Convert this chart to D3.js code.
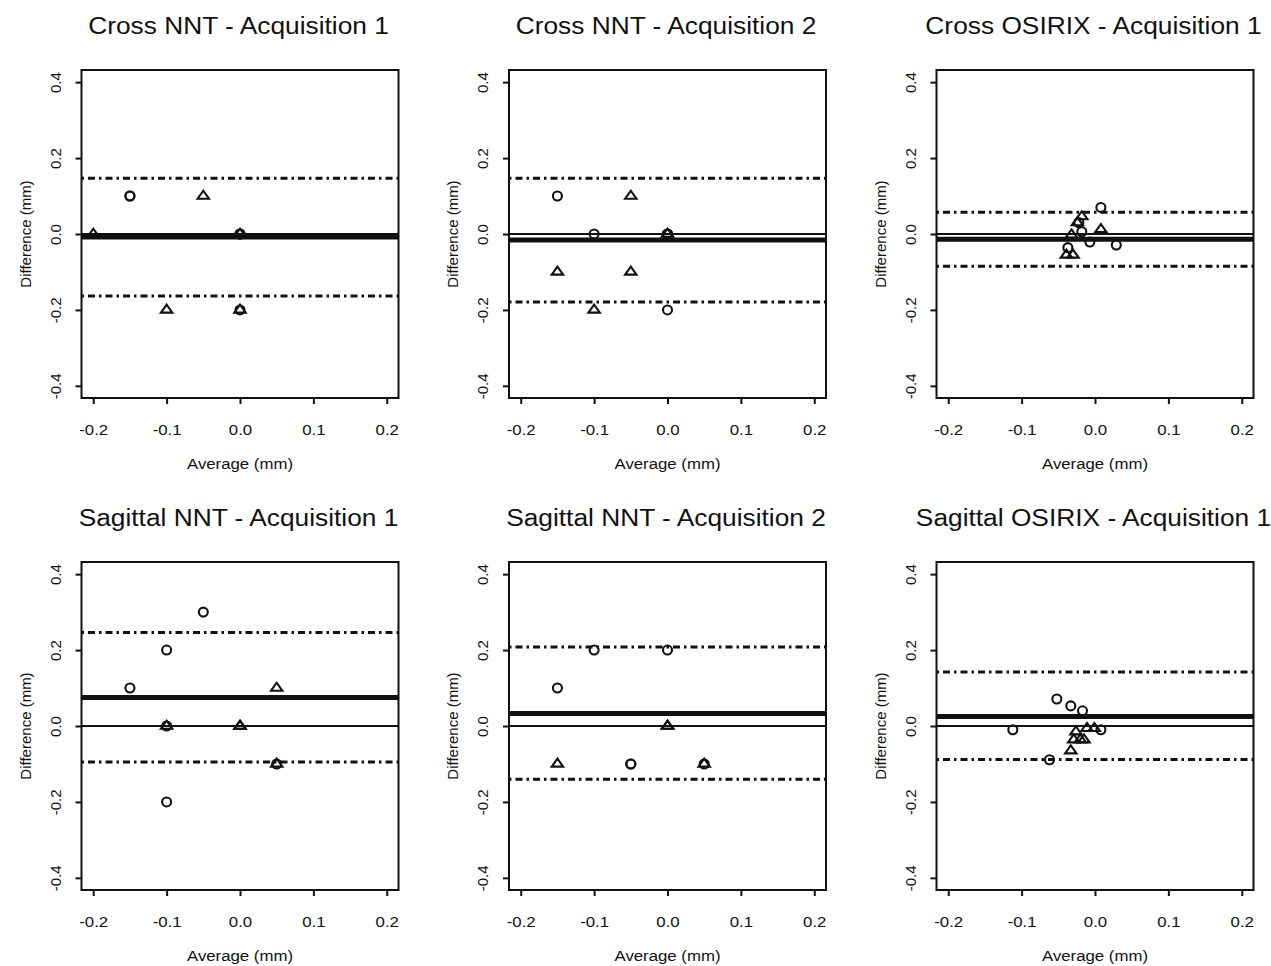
<!DOCTYPE html>
<html>
<head>
<meta charset="utf-8">
<script src="https://cdn.jsdelivr.net/npm/d3@7"></script>
<style>
  html, body { margin: 0; padding: 0; background: #fff; }
  svg text { font-family: "Liberation Sans", Arial, Helvetica, sans-serif; fill: #111; }
</style>
</head>
<body>
<svg id="chart" width="1271" height="966"></svg>
<script>
// ---------- data ----------
const panelTitles = [
  "Cross NNT - Acquisition 1", "Cross NNT - Acquisition 2", "Cross OSIRIX - Acquisition 1",
  "Sagittal NNT - Acquisition 1", "Sagittal NNT - Acquisition 2", "Sagittal OSIRIX - Acquisition 1"
];
const xTicks = [-0.2, -0.1, 0.0, 0.1, 0.2];
const yTicks = [-0.4, -0.2, 0.0, 0.2, 0.4];
const xLabel = "Average (mm)";
const yLabel = "Difference (mm)";

// mean difference (bias) and limits of agreement per panel
const meanDiff   = [-0.008, -0.016, -0.014, 0.075, 0.033, 0.025];
const upperLimit = [0.147, 0.147, 0.057, 0.246, 0.208, 0.142];
const lowerLimit = [-0.163, -0.179, -0.085, -0.095, -0.140, -0.088];

// points [average, difference]; circles and triangles
const crossNNT1Circles   = [[-0.15,0.1],[-0.15,0.1],[0,0],[0,0],[0,-0.2]];
const crossNNT1Triangles = [[-0.2,0],[-0.05,0.1],[0,0],[-0.1,-0.2],[0,-0.2]];
const crossNNT2Circles   = [[-0.15,0.1],[-0.1,0],[0,0],[0,0],[0,-0.2]];
const crossNNT2Triangles = [[-0.05,0.1],[0,0],[-0.15,-0.1],[-0.05,-0.1],[-0.1,-0.2]];
const crossOSI1Circles   = [[0.008,0.070],[-0.022,0.030],[-0.018,0.006],[-0.007,-0.021],[0.029,-0.029],[-0.037,-0.036]];
const crossOSI1Triangles = [[-0.018,0.046],[-0.024,0.030],[0.008,0.012],[-0.032,-0.002],[-0.039,-0.055],[-0.030,-0.055]];
const sagNNT1Circles     = [[-0.05,0.3],[-0.1,0.2],[-0.15,0.1],[-0.1,0],[0.05,-0.1],[-0.1,-0.2]];
const sagNNT1Triangles   = [[0.05,0.1],[-0.1,0],[0,0],[0,0],[0.05,-0.1]];
const sagNNT2Circles     = [[-0.1,0.2],[0,0.2],[-0.15,0.1],[-0.05,-0.1],[-0.05,-0.1],[0.05,-0.1]];
const sagNNT2Triangles   = [[0,0],[0,0],[-0.15,-0.1],[0.05,-0.1]];
const sagOSI1Circles     = [[-0.052,0.071],[-0.033,0.053],[-0.017,0.040],[-0.112,-0.010],[0.008,-0.010],[-0.062,-0.089]];
const sagOSI1Triangles   = [[-0.026,-0.015],[-0.011,-0.006],[-0.001,-0.006],[-0.029,-0.036],[-0.020,-0.036],[-0.015,-0.036],[-0.033,-0.065]];

const panelCircles = [crossNNT1Circles, crossNNT2Circles, crossOSI1Circles, sagNNT1Circles, sagNNT2Circles, sagOSI1Circles];
const panelTriangles = [crossNNT1Triangles, crossNNT2Triangles, crossOSI1Triangles, sagNNT1Triangles, sagNNT2Triangles, sagOSI1Triangles];

// ---------- layout ----------
const svg = d3.select("#chart");
const colOffsets = [0, 427.5, 855];
const rowOffsets = [0, 492];
const bx0 = 81.5, bx1 = 398.5, by0 = 70, by1 = 398;
const SX = 1.12; // horizontal text stretch

const x = d3.scaleLinear().domain([-0.216, 0.216]).range([bx0, bx1]);
const y = d3.scaleLinear().domain([-0.432, 0.432]).range([by1, by0]);
const cx = (bx0 + bx1) / 2, cy = (by0 + by1) / 2;

const triPath = "M0,-5.3L5.7,2.7L-5.7,2.7Z";

panelTitles.forEach((title, i) => {
  const g = svg.append("g")
    .attr("transform", `translate(${colOffsets[i % 3]},${rowOffsets[Math.floor(i / 3)]})`);

  const clipId = "clip" + i;
  g.append("clipPath").attr("id", clipId)
    .append("rect").attr("x", bx0).attr("y", by0).attr("width", bx1 - bx0).attr("height", by1 - by0);

  const lines = g.append("g").attr("clip-path", `url(#${clipId})`);
  // zero line
  lines.append("line")
    .attr("x1", bx0).attr("x2", bx1).attr("y1", y(0)).attr("y2", y(0))
    .attr("stroke", "#111").attr("stroke-width", 2.2);
  // mean line
  lines.append("line")
    .attr("x1", bx0).attr("x2", bx1).attr("y1", y(meanDiff[i])).attr("y2", y(meanDiff[i]))
    .attr("stroke", "#111").attr("stroke-width", 5);
  // limits
  [upperLimit[i], lowerLimit[i]].forEach(v => {
    lines.append("line")
      .attr("x1", bx0).attr("x2", bx1).attr("y1", y(v)).attr("y2", y(v))
      .attr("stroke", "#111").attr("stroke-width", 3)
      .attr("stroke-dasharray", "2.5,4,7,4");
  });

  // points
  g.append("g").selectAll("circle").data(panelCircles[i]).join("circle")
    .attr("cx", d => x(d[0])).attr("cy", d => y(d[1])).attr("r", 4.5)
    .attr("fill", "none").attr("stroke", "#111").attr("stroke-width", 2.1);
  g.append("g").selectAll("path").data(panelTriangles[i]).join("path")
    .attr("d", triPath)
    .attr("transform", d => `translate(${x(d[0])},${y(d[1])})`)
    .attr("fill", "none").attr("stroke", "#111").attr("stroke-width", 2.1)
    .attr("stroke-linejoin", "miter");

  // box
  g.append("rect").attr("x", bx0).attr("y", by0).attr("width", bx1 - bx0).attr("height", by1 - by0)
    .attr("fill", "none").attr("stroke", "#111").attr("stroke-width", 2);

  // x axis
  const xa = g.append("g").attr("transform", `translate(0,${by1})`)
    .call(d3.axisBottom(x).tickValues(xTicks).tickSize(6).tickFormat(d3.format(".1f")));
  xa.select(".domain").remove();
  xa.selectAll(".tick line").attr("stroke", "#111").attr("stroke-width", 2);
  xa.selectAll(".tick text")
    .attr("y", 0).attr("dy", 0)
    .attr("transform", `translate(0,36.5) scale(${SX},1)`)
    .attr("font-size", 15).attr("fill", "#111")
    .text(d => d3.format(".1f")(d).replace("−", "-"));

  // y axis
  const ya = g.append("g").attr("transform", `translate(${bx0},0)`)
    .call(d3.axisLeft(y).tickValues(yTicks).tickSize(6).tickFormat(d3.format(".1f")));
  ya.select(".domain").remove();
  ya.selectAll(".tick line").attr("stroke", "#111").attr("stroke-width", 2);
  ya.selectAll(".tick text")
    .attr("x", 0).attr("y", 0).attr("dy", 0)
    .attr("text-anchor", "middle")
    .attr("transform", "translate(-21,0) rotate(-90)")
    .attr("font-size", 15).attr("fill", "#111")
    .text(d => d3.format(".1f")(d).replace("−", "-"));

  // labels
  g.append("text").attr("text-anchor", "middle").attr("font-size", 15)
    .attr("transform", `translate(${cx},469) scale(${SX},1)`).text(xLabel);
  g.append("text").attr("text-anchor", "middle").attr("font-size", 15)
    .attr("transform", `translate(30.5,${cy}) rotate(-90)`).text(yLabel);
  g.append("text").attr("text-anchor", "middle").attr("font-size", 23.5)
    .attr("transform", `translate(${cx - 1.5},34) scale(${SX},1)`).text(title);
});
</script>
</body>
</html>
